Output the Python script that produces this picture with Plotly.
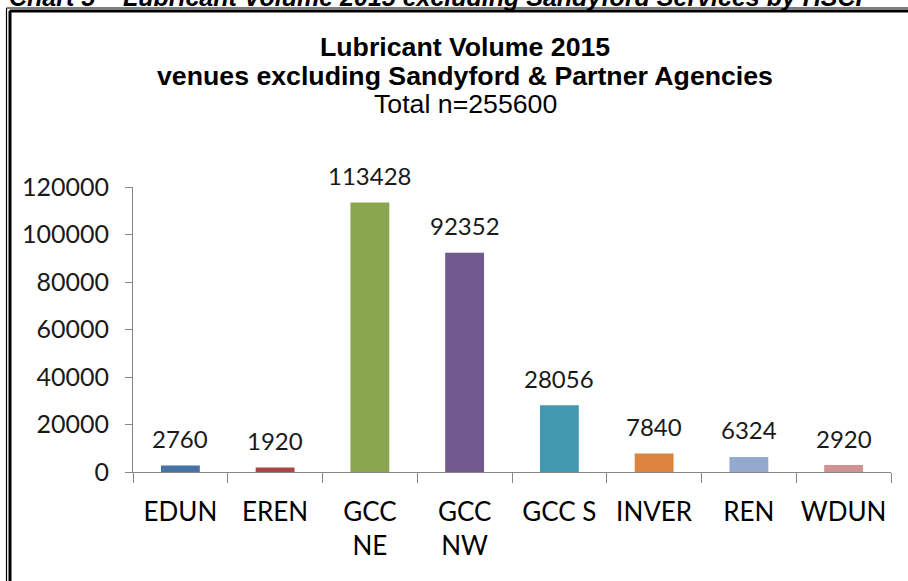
import plotly.graph_objects as go

# ---- data ----
categories = ["EDUN", "EREN", "GCC<br>NE", "GCC<br>NW", "GCC S", "INVER", "REN", "WDUN"]
values = [2760, 1920, 113428, 92352, 28056, 7840, 6324, 2920]
bar_colors = ["#4572A7", "#AA4643", "#89A54E", "#71588F", "#4198AF", "#DB843D", "#93A9CF", "#D19392"]
y_ticks = [0, 20000, 40000, 60000, 80000, 100000, 120000]
caption = "Chart 5 – Lubricant Volume 2015 excluding Sandyford Services by HSCP"
title_lines = ["Lubricant Volume 2015", "venues excluding Sandyford & Partner Agencies", "Total n=255600"]

W, H = 908, 581
L, R, T, B = 133, 17, 187, 109
PW, PH = W - L - R, H - T - B

def px(x):
    return (x - L) / PW

def py(y):
    return (H - B - y) / PH

fig = go.Figure()
fig.add_trace(go.Bar(
    x=categories, y=values,
    marker=dict(color=bar_colors, line=dict(width=0)),
    hoverinfo="x+y",
))

num_font = dict(family="Lato, Open Sans, sans-serif", size=24, color="#1a1a1a")

# data labels
for c, v in zip(categories, values):
    fig.add_annotation(x=c, y=v, xref="x", yref="y", text=str(v), showarrow=False,
                       yanchor="middle", yshift=27, font=num_font)

# title lines
title_y = [47, 76, 104]
for i, (t, yy) in enumerate(zip(title_lines, title_y)):
    txt = "<b>%s</b>" % t if i < 2 else t
    fig.add_annotation(x=px(465), y=py(yy), xref="paper", yref="paper", text=txt,
                       showarrow=False, xanchor="center", yanchor="middle",
                       font=dict(family="Liberation Sans, Arial, sans-serif", size=26.7, color="#000000"))

# caption (cut at top edge, as in the source page)
fig.add_annotation(x=px(7), y=py(13), xref="paper", yref="paper", text="<b><i>%s</i></b>" % caption,
                   showarrow=False, xanchor="left", yanchor="bottom",
                   font=dict(family="Liberation Sans, Arial, sans-serif", size=25, color="#000000"))

# frame (double line on left / top)
shapes = [
    dict(type="line", xref="paper", yref="paper", x0=px(6.5), y0=py(8), x1=px(W), y1=py(8),
         line=dict(color="#000000", width=1.2)),
    dict(type="line", xref="paper", yref="paper", x0=px(9.5), y0=py(11), x1=px(W), y1=py(11),
         line=dict(color="#000000", width=3)),
    dict(type="line", xref="paper", yref="paper", x0=px(6.5), y0=py(8), x1=px(6.5), y1=py(H + 5),
         line=dict(color="#000000", width=1.2)),
    dict(type="line", xref="paper", yref="paper", x0=px(10), y0=py(11), x1=px(10), y1=py(H + 5),
         line=dict(color="#000000", width=3)),
]

fig.update_layout(
    width=W, height=H,
    margin=dict(l=L, r=R, t=T, b=B, pad=0),
    paper_bgcolor="white", plot_bgcolor="white",
    showlegend=False, bargap=0.59,
    shapes=shapes,
    xaxis=dict(type="category", tickson="boundaries", ticks="outside", ticklen=10, tickwidth=1,
               tickcolor="#868686", showline=True, linecolor="#868686", linewidth=1,
               showgrid=False, zeroline=False, ticklabelstandoff=17,
               tickfont=dict(family="Lato, Open Sans, sans-serif", size=26, color="#000000")),
    yaxis=dict(range=[0, 120000], tickvals=y_ticks, ticktext=[str(t) for t in y_ticks],
               ticks="outside", ticklen=7, tickwidth=1, tickcolor="#868686",
               showline=True, linecolor="#868686", linewidth=1, showgrid=False, zeroline=False,
               ticklabelstandoff=11,
               tickfont=dict(family="Lato, Open Sans, sans-serif", size=25, color="#1a1a1a")),
)

fig.write_html("out.html", config={"displayModeBar": False},
               post_script="document.body.style.margin='0px';document.body.style.overflow='hidden';")
